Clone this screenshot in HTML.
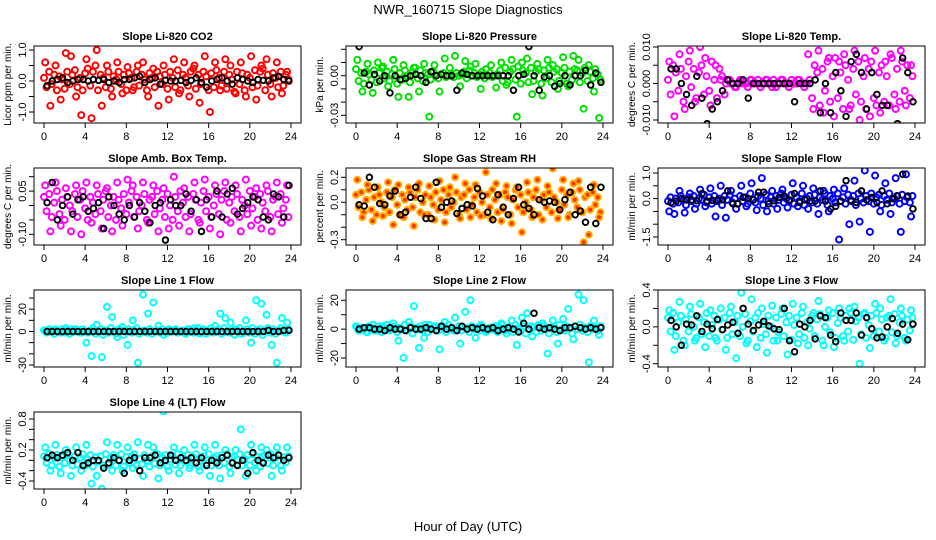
<!DOCTYPE html>
<html><head><meta charset="utf-8">
<style>
html,body{margin:0;padding:0;background:#fff;}
svg{display:block;font-family:"Liberation Sans",sans-serif;}
</style></head>
<body>
<svg id="chart" width="936" height="540" viewBox="0 0 936 540" xmlns="http://www.w3.org/2000/svg">
<text x="468" y="14" font-size="13" text-anchor="middle">NWR_160715  Slope Diagnostics</text>
<text x="468" y="531" font-size="13" text-anchor="middle">Hour of Day (UTC)</text>
</svg>
<script>
// ---- data ----
const xTicks = [0,4,8,12,16,20,24];
const titles = ["Slope Li-820 CO2","Slope Li-820 Pressure","Slope Li-820 Temp.","Slope Amb. Box Temp.","Slope Gas Stream RH","Slope Sample Flow","Slope Line 1 Flow","Slope Line 2 Flow","Slope Line 3 Flow","Slope Line 4 (LT) Flow"];
const yTitles = ["Licor ppm per min.","kPa per min.","degrees C per min.","degrees C per min.","percent per min.","ml/min per min.","ml/min per min.","ml/min per min.","ml/min per min.","ml/min per min."];
const yTickVals = [[1,0.5,0,-0.5,-1],[0.02,0.01,0,-0.01,-0.02,-0.03],[0.01,0.005,0,-0.005,-0.01],[0.1,0.05,0,-0.05,-0.1],[0.2,0.1,0,-0.1,-0.2,-0.3],[1,0.5,0,-0.5,-1,-1.5],[30,20,10,0,-10,-20,-30],[20,10,0,-10,-20],[0.4,0.2,0,-0.2,-0.4],[0.8,0.6,0.4,0.2,0,-0.2,-0.4]];
const yTickLabels = [["1.0","","0.0","","-1.0"],["","","0.00","","","-0.03"],["0.010","","0.000","","-0.010"],["","0.05","","","-0.10"],["0.2","","0.0","","","-0.3"],["1.0","","0.0","","","-1.5"],["","20","","0","","","-30"],["20","","0","","-20"],["0.4","","0.0","","-0.4"],["0.8","","","0.2","","","-0.4"]];

const p1A=[0.1,-0.2,0.3,-0.1,0.2,-0.3,0.15,0.05,-0.25,0.3,-0.1,0.2,0.35,-0.2,0.1,-0.3,0.25,0.4,-0.15,0.3,0.5,-0.3,0.2,0.1,-0.2,0.3,-0.25,0.15,0.05,0.3,-0.1,0.2,-0.3,0.25,0.1,-0.2,0.3,-0.15,0.2,0.05,-0.3,0.25,0.1,-0.2,0.3,0.15,-0.1,0.2,-0.25,0.3,0.1,-0.2,0.35,-0.3,0.2,0.1,-0.15,0.3,0.4,-0.25,0.2,-0.1,0.3,0.15,-0.3,0.25,-0.2,0.35,0.1,-0.15,0.3,-0.25,0.2,0.05,-0.35,0.3,-0.1,0.25,-0.3,0.2,0.1,-0.2,0.35,-0.15,0.3,0.4,-0.3,0.2,-0.1,0.25,0.1,-0.2,0.3,-0.15,0.2,0.05];
const p1B=[0.6,-0.8,0.5,-0.6,0.9,0.8,-0.5,-1.1,0.7,-1.2,1.0,-0.8,0.5,-0.5,0.6,-0.4,0.45,-0.3,0.5,0.6,-0.5,0.4,-0.8,0.5,-0.6,0.7,-0.4,0.6,-0.5,0.5,-0.7,0.8,-1.0,0.6,-0.3,0.7,0.5,-0.4,0.6,-0.5,0.8,-0.6,0.5,0.7,-0.5,0.6,-0.4,0.3];
const p1K=[-0.15,0.0,0.05,0.1,-0.05,0.0,0.05,0.05,0.0,0.05,0.02,0.05,-0.05,0.0,-0.05,0.05,0.05,0.1,0.15,-0.05,0.05,0.1,-0.1,0.02,0.0,0.0,0.02,-0.05,0.02,0.1,-0.05,-0.2,0.0,0.05,0.1,0.0,-0.1,0.1,0.05,0.0,-0.05,0.05,0.02,0.0,0.1,0.15,0.05,0.0];

const p2A=[0.005,-0.004,0.002,-0.006,0.003,0.001,-0.003,0.004,-0.005,0.002,0.006,-0.002,0.003,-0.004,0.001,0.005,-0.006,0.002,-0.003,0.004,0.0,-0.005,0.003,0.006,-0.002,0.004,-0.004,0.002,0.001,-0.003,0.003,0.0,-0.002,0.001,0.002,-0.001,0.0,0.001,-0.001,0.002,0.0,0.001,0.003,-0.002,0.004,0.0,0.002,-0.001,0.001,0.003,-0.002,0.0,0.002,-0.001,0.0,0.001,0.004,-0.004,0.006,-0.005,0.003,0.005,-0.003,0.007,-0.006,0.004,0.002,-0.005,0.006,-0.004,0.003,0.005,-0.006,0.004,-0.002,0.006,-0.005,0.003,0.005,-0.004,0.002,0.006,-0.006,0.003,-0.003,0.005,0.004,-0.005,0.002,0.006,-0.004,0.003,-0.002,0.005,0.001,-0.003];
const p2B=[0.012,-0.012,0.009,-0.013,0.01,0.007,-0.008,0.012,-0.016,0.008,-0.016,0.006,-0.012,0.009,-0.031,0.008,-0.012,0.013,0.006,0.015,-0.008,0.011,0.007,0.009,-0.01,0.005,0.008,-0.009,0.01,-0.007,0.012,-0.031,0.01,0.013,-0.014,0.009,-0.015,0.012,0.008,-0.01,0.014,-0.008,0.015,0.012,-0.025,0.008,-0.012,-0.032];
const p2K=[0.022,0.002,-0.007,0.001,-0.004,0.0,-0.013,0.0,-0.003,-0.002,0.0,0.001,0.0,-0.005,0.003,0.0,0.001,0.0,0.0,-0.011,0.002,0.001,0.0,0.0,0.0,0.0,0.0,0.0,0.0,0.0,-0.011,0.0,0.001,0.022,0.0,-0.011,-0.001,0.0,-0.008,-0.006,0.0,-0.007,0.0,0.0,0.004,-0.007,0.002,-0.005];

const p3A=[0.001,-0.003,0.005,0.003,-0.002,0.004,-0.005,0.002,0.006,-0.001,0.004,-0.004,0.003,0.005,-0.003,0.002,-0.002,0.006,0.001,-0.004,0.004,0.002,-0.003,0.001,0.001,0.0,-0.001,0.0,0.001,0.0,0.0,-0.001,0.001,0.0,0.0,0.001,-0.001,0.0,0.001,0.0,0.0,0.001,-0.001,0.0,0.001,0.0,0.0,-0.001,0.001,0.0,0.0,0.001,0.0,-0.001,0.0,0.001,-0.004,0.005,0.003,-0.006,0.004,-0.002,0.006,-0.005,0.002,0.007,-0.004,0.003,-0.007,0.005,0.001,-0.006,0.004,-0.003,0.006,-0.005,0.002,-0.007,0.004,0.006,-0.004,-0.006,0.003,0.005,-0.005,0.002,-0.006,0.007,-0.003,0.004,-0.005,0.006,-0.002,0.005,-0.004,0.002];
const p3B=[0.006,-0.009,0.008,-0.007,0.009,-0.005,0.01,0.007,-0.006,0.005,0.001,0.0,0.0,-0.001,0.001,0.0,0.001,0.0,0.0,0.001,-0.001,0.0,0.001,0.0,0.0,0.001,0.0,0.008,-0.007,0.009,-0.008,0.007,-0.009,0.006,0.008,-0.007,0.009,-0.010,0.007,-0.009,0.009,-0.008,0.006,0.008,-0.007,0.009,-0.006,0.005];
const p3K=[0.004,0.004,0.0,-0.003,-0.006,0.002,-0.004,-0.011,-0.007,-0.005,-0.002,0.001,0.0,0.0,0.001,-0.004,0.0,0.0,0.0,0.0,0.0,0.0,0.0,0.0,-0.005,0.0,0.0,0.0,0.001,-0.008,0.0,-0.008,0.003,-0.002,-0.009,0.006,0.008,0.003,-0.007,0.003,-0.003,-0.006,-0.006,0.012,-0.011,0.007,0.003,-0.005];

const p4A=[0.03,-0.02,0.04,-0.04,0.01,0.05,-0.03,0.02,-0.05,0.03,0.0,-0.02,0.04,-0.04,0.02,0.05,-0.01,-0.05,0.03,0.01,-0.03,0.04,-0.02,0.02,0.05,-0.04,0.0,0.03,-0.05,0.02,-0.01,0.04,-0.03,0.01,0.05,-0.04,0.03,-0.02,0.0,0.04,-0.05,0.02,0.03,-0.03,0.05,-0.01,0.02,-0.04,0.04,0.0,-0.05,0.03,-0.02,0.05,0.01,-0.04,0.03,-0.03,0.04,0.02,-0.05,0.01,0.05,-0.02,0.03,-0.04,0.0,0.04,-0.03,0.02,0.05,-0.05,0.01,0.03,-0.02,0.04,-0.04,0.02,0.0,-0.03,0.05,-0.01,0.03,-0.05,0.04,0.01,-0.02,0.05,-0.04,0.02,0.03,-0.03,0.04,-0.01,0.02,-0.04];
const p4B=[0.07,-0.09,0.08,-0.07,0.06,-0.09,0.07,-0.1,0.08,-0.06,0.07,-0.08,0.06,-0.09,0.08,-0.07,0.09,0.07,-0.08,0.08,-0.06,0.07,-0.09,0.06,-0.08,0.1,-0.07,0.06,-0.09,0.08,-0.06,0.09,-0.08,0.07,-0.1,0.08,-0.06,0.07,-0.09,0.09,-0.07,0.06,-0.08,0.07,-0.09,0.08,-0.06,0.07];
const p4K=[0.01,0.08,-0.05,0.0,0.03,-0.03,0.02,0.03,-0.02,-0.01,0.01,-0.08,0.03,0.0,-0.03,-0.05,0.0,-0.04,0.01,-0.02,-0.06,0.0,0.01,-0.12,0.02,0.0,0.0,0.04,-0.02,0.02,-0.09,0.02,-0.04,0.05,-0.04,0.04,0.06,-0.03,-0.01,0.01,0.03,0.02,-0.04,-0.05,0.04,0.03,-0.04,0.07];

const p5A=[0.06,-0.04,0.08,-0.08,0.02,0.1,-0.06,0.04,-0.1,0.06,0.0,-0.04,0.08,-0.08,0.04,0.1,-0.02,-0.1,0.06,0.02,-0.06,0.08,-0.04,0.04,0.1,-0.08,0.0,0.06,-0.1,0.04,-0.02,0.08,-0.06,0.02,0.1,-0.08,0.06,-0.04,0.0,0.08,-0.1,0.04,0.06,-0.06,0.1,-0.02,0.04,-0.08,0.08,0.0,-0.1,0.06,-0.04,0.1,0.02,-0.08,0.06,-0.06,0.08,0.04,-0.1,0.02,0.1,-0.04,0.06,-0.08,0.0,0.08,-0.06,0.04,0.1,-0.1,0.02,0.06,-0.04,0.08,-0.08,0.04,0.0,-0.06,0.1,-0.02,0.06,-0.1,0.08,0.02,-0.04,0.1,-0.08,0.04,0.06,-0.06,0.08,-0.02,0.04,-0.08];
const p5B=[0.18,-0.12,0.14,-0.15,0.12,-0.11,0.16,-0.18,0.14,-0.12,0.12,-0.19,0.15,-0.1,0.13,-0.14,0.17,-0.16,0.12,0.2,-0.13,0.15,-0.12,0.14,-0.11,0.24,-0.13,0.15,-0.15,0.13,-0.17,0.12,-0.24,0.16,-0.12,0.18,-0.14,0.13,0.27,-0.13,0.18,-0.12,0.15,0.17,-0.32,-0.26,0.14,-0.12];
const p5K=[-0.02,-0.03,0.2,0.12,-0.01,-0.02,0.05,0.09,-0.1,-0.08,0.04,0.12,0.03,-0.13,-0.13,0.16,-0.04,0.0,0.01,-0.09,-0.05,-0.02,-0.03,0.11,0.05,-0.08,-0.14,0.06,-0.04,-0.1,0.03,0.12,-0.02,-0.05,-0.1,0.02,0.0,0.01,0.0,-0.06,0.02,0.08,-0.1,-0.07,-0.16,0.12,-0.17,0.12];

const p6A=[-0.1,0.05,-0.2,0.0,-0.15,0.1,-0.05,-0.25,0.05,-0.1,0.1,-0.2,0.0,-0.05,0.15,-0.15,0.05,-0.2,0.1,-0.1,0.0,-0.25,0.1,-0.05,0.15,-0.15,0.0,-0.2,0.1,-0.1,0.05,-0.2,0.2,-0.05,-0.15,0.1,0.0,-0.25,0.15,-0.1,0.05,-0.2,0.1,-0.05,0.2,-0.15,0.0,-0.1,0.15,-0.2,0.05,-0.1,0.2,-0.25,0.0,0.1,-0.15,0.15,-0.2,0.05,-0.05,0.2,-0.25,0.1,0.0,-0.15,0.2,-0.1,0.05,-0.2,0.15,-0.05,0.1,-0.25,0.2,0.0,-0.15,0.1,-0.1,0.2,-0.2,0.05,0.15,-0.25,0.1,-0.05,0.2,-0.15,0.0,0.1,-0.2,0.15,-0.1,0.05,-0.15,0.1];
const p6B=[-0.5,-0.6,0.3,-0.55,0.2,-0.4,0.35,-0.3,0.4,-0.7,0.5,-0.75,0.3,-0.4,0.5,-0.3,0.6,-0.45,0.8,-0.5,0.3,-0.4,0.35,-0.35,0.6,-0.3,0.5,-0.4,0.4,-0.6,0.3,-0.5,0.35,-1.6,0.4,-1.0,0.7,-0.9,1.1,-1.3,0.9,-0.5,0.6,-0.6,0.8,-1.3,0.95,-0.7];
const p6K=[-0.15,-0.1,0.0,-0.05,-0.05,-0.08,0.2,-0.1,-0.07,-0.05,-0.05,0.3,-0.2,-0.2,0.05,0.0,-0.05,0.25,0.25,-0.2,-0.08,0.05,0.1,-0.05,0.2,-0.15,-0.05,-0.1,-0.1,0.3,-0.1,-0.4,-0.3,-0.1,0.7,-0.1,-0.15,0.3,-0.05,0.05,-0.15,0.3,-0.2,0.0,0.1,0.95,0.1,-0.4];

const p7A=[1,-1,2,0,-2,1,0,2,-1,1,-2,2,0,1,-1,2,0,-1,1,3,-2,0,2,-3,1,-1,3,0,-2,2,1,-3,0,2,-1,1,3,-2,0,1,-1,2,-2,0,1,-1,2,0,-1,1,0,2,-1,0,1,-2,2,0,-1,1,3,-1,2,-2,0,3,-1,1,2,-2,3,0,-1,2,-3,1,3,-2,0,2,-1,3,-2,1,2,-3,0,3,-1,2,-2,1,3,0,-1,2];
const p7B=[1,0,2,-1,3,0,2,-1,-10,-22,6,-23,22,13,-5,4,-12,10,-28,33,16,26,5,-3,2,1,0,-1,2,3,-2,1,0,5,16,12,8,2,-2,10,-10,28,25,15,-12,-28,12,8];
const p7K=[0,0,0,0,0,0,0,0,0,0,0,0,0,0,0,0,0,0,0,0,0,0,0,0,0,0,0,0,0,0,0,0,0,0,0,0,0,0,0,0,0,0,0,1,0,0,1,1];

const p8A=[2,-1,1,0,-2,2,1,-1,0,2,-2,1,3,-1,0,2,-2,1,0,3,-1,2,-3,1,0,2,-1,3,-2,0,1,2,-1,0,2,-2,3,1,-1,0,2,-1,1,0,-2,2,0,1,-1,2,0,-1,1,0,2,-2,1,3,-1,0,2,-2,3,1,-1,2,-3,0,2,1,-2,3,-1,2,0,-3,1,2,-2,3,0,-1,2,1,-3,2,0,3,-1,1,-2,2,0,1,-1,2];
const p8B=[1,0,-2,3,-1,2,0,4,-8,-20,5,16,-13,-6,3,2,-14,5,0,8,-10,12,20,-6,3,-2,1,0,4,-3,6,-11,8,11,-5,2,4,-17,6,-10,7,14,-7,24,20,-23,6,-4];
const p8K=[0,1,1,0,0,-1,1,0,0,-1,1,0,0,1,0,-1,2,0,1,-1,2,0,1,0,1,0,1,-1,0,1,0,-2,4,0,11,1,0,1,0,-1,1,1,2,1,0,1,0,1];

const p9A=[0.1,-0.05,0.15,-0.1,0.05,0.12,-0.15,0.08,-0.05,0.14,0.0,-0.12,0.1,-0.08,0.05,0.15,-0.1,0.02,0.12,-0.15,0.08,-0.03,0.1,-0.12,0.15,-0.08,0.05,0.12,-0.1,0.0,0.14,-0.15,0.06,-0.05,0.1,0.15,-0.12,0.03,-0.08,0.12,0.0,-0.15,0.1,-0.06,0.14,-0.1,0.05,0.12,-0.14,0.02,0.1,-0.08,0.15,-0.12,0.05,-0.02,0.12,-0.1,0.08,0.14,-0.15,0.0,0.1,-0.06,0.15,-0.12,0.04,0.1,-0.1,0.12,-0.05,0.15,-0.14,0.06,0.1,-0.08,0.14,-0.12,0.02,0.12,-0.1,0.15,-0.05,0.08,-0.15,0.1,0.12,-0.06,0.14,-0.1,0.05,0.12,-0.12,0.08,-0.04,0.1];
const p9B=[0.18,-0.25,0.27,-0.2,0.22,-0.15,0.25,-0.22,0.18,-0.12,0.2,-0.25,0.22,-0.34,0.37,-0.18,0.3,-0.22,0.2,-0.28,0.23,-0.15,0.2,-0.3,0.25,-0.18,0.22,-0.2,0.15,0.28,-0.2,0.18,-0.22,0.2,-0.15,0.2,0.22,-0.4,0.15,-0.23,0.25,0.2,-0.12,0.3,-0.18,0.2,-0.15,0.18];
const p9K=[0.07,0.0,-0.2,0.03,0.02,0.12,-0.05,0.03,-0.02,0.08,-0.03,0.02,0.05,-0.07,0.2,0.03,-0.04,0.02,0.06,0.01,-0.02,-0.03,0.2,-0.15,-0.27,0.03,0.0,0.07,-0.13,0.12,0.1,-0.09,-0.16,0.15,0.07,0.07,0.15,-0.09,0.1,-0.02,-0.12,-0.11,0.0,0.09,-0.07,0.03,-0.14,0.03];

const p10A=[0.08,-0.05,0.12,-0.1,0.05,0.1,-0.12,0.06,-0.05,0.12,0.0,-0.1,0.08,-0.08,0.05,0.12,-0.1,0.02,0.1,-0.12,0.06,-0.03,0.08,-0.1,0.12,-0.08,0.05,0.1,-0.1,0.0,0.12,-0.12,0.06,-0.05,0.08,0.12,-0.1,0.03,-0.08,0.1,0.0,-0.12,0.08,-0.06,0.12,-0.1,0.05,0.1,-0.12,0.02,0.08,-0.08,0.12,-0.1,0.05,-0.02,0.1,-0.1,0.06,0.12,-0.12,0.0,0.08,-0.06,0.12,-0.1,0.04,0.08,-0.1,0.1,-0.05,0.12,-0.12,0.06,0.08,-0.08,0.12,-0.1,0.02,0.1,-0.1,0.12,-0.05,0.06,-0.12,0.08,0.1,-0.06,0.12,-0.1,0.05,0.1,-0.1,0.06,-0.04,0.08];
const p10B=[0.25,-0.2,0.3,-0.25,0.2,-0.3,0.25,-0.2,0.3,-0.45,-0.3,-0.55,0.35,-0.2,0.3,-0.2,0.25,-0.15,0.35,-0.3,0.3,0.25,-0.35,0.95,-0.2,0.25,-0.25,0.2,-0.15,0.3,-0.2,0.25,-0.3,0.3,-0.35,0.2,-0.25,0.2,0.6,-0.3,0.3,-0.2,0.25,0.2,-0.3,0.25,-0.2,0.25];
const p10K=[0.05,0.1,0.05,0.1,0.15,0.0,0.15,-0.1,-0.05,0.0,0.0,-0.15,-0.05,0.05,0.0,-0.25,0.0,0.05,-0.2,0.05,0.05,0.1,-0.05,0.0,0.1,0.0,0.05,0.0,0.05,-0.05,0.05,-0.1,0.0,-0.05,0.05,0.1,-0.05,-0.1,0.0,-0.25,0.15,0.0,-0.05,0.1,0.05,0.1,0.0,0.05];

const seriesA=[p1A,p2A,p3A,p4A,p5A,p6A,p7A,p8A,p9A,p10A];
const seriesB=[p1B,p2B,p3B,p4B,p5B,p6B,p7B,p8B,p9B,p10B];
const seriesK=[p1K,p2K,p3K,p4K,p5K,p6K,p7K,p8K,p9K,p10K];
const hourStepA=0.25, hourStepB=0.5, hourOffB=0.12, hourStepK=0.5, hourOffK=0.3;

// ---- layout (not data) ----
const colLeft=[34,346,658], rowTop=[46,168,290,412], boxW=267, boxH=77;
const yCal=[[1,4,-1,66],[0.02,3.3,-0.03,69.3],[0.01,1,-0.01,74],[0.1,8.7,-0.1,66.3],[0.2,9.3,-0.3,71.7],[1,5,-1.5,69],[30,8,-30,75],[20,10.3,-20,68],[0.4,0,-0.4,73.7],[0.8,7,-0.4,69]];
const colors=[["#ff0000","none"],["#00e000","none"],["#ff00ff","none"],["#ff00ff","none"],["#ffb000","#ff3000"],["#0000ff","none"],["#00ffff","none"],["#00ffff","none"],["#00ffff","none"],["#00ffff","none"]];

const NS="http://www.w3.org/2000/svg";
const svg=document.getElementById('chart');
function mk(tag,attrs,parent){const e=document.createElementNS(NS,tag);for(const k in attrs)e.setAttribute(k,attrs[k]);(parent||svg).appendChild(e);return e;}

for(let p=0;p<10;p++){
  const L=colLeft[p%3], T=rowTop[Math.floor(p/3)];
  const xS=h=>L+10+h*247/24;
  const c=yCal[p];
  const yS=v=>T+c[1]+(c[0]-v)*(c[3]-c[1])/(c[0]-c[2]);
  const g=mk('g',{});
  
  
  const cp=mk('clipPath',{id:'clip'+p},g);
  mk('rect',{x:L,y:T,width:boxW,height:boxH},cp);
  const t=mk('text',{x:L+boxW/2,y:T-6,'font-size':11,'font-weight':'bold','text-anchor':'middle'},g);
  t.textContent=titles[p];
  
  
  const yt=mk('text',{x:0,y:0,'font-size':10,'text-anchor':'middle',transform:`translate(${L-23},${T+boxH/2}) rotate(-90)`},g);
  yt.textContent=yTitles[p];
  
  
  yTickVals[p].forEach((v,i)=>{
    const y=yS(v);
    const tk=mk('line',{x1:L-5,x2:L,y1:y,y2:y,stroke:'#000','stroke-width':1},g);
    
    
    if(yTickLabels[p][i]){
      const lb=mk('text',{x:0,y:0,'font-size':11,'text-anchor':'middle',transform:`translate(${L-8},${y}) rotate(-90)`},g);
      lb.textContent=yTickLabels[p][i];
      
      
    }
  });
  xTicks.forEach(h=>{
    const x=xS(h);
    const tk=mk('line',{x1:x,x2:x,y1:T+boxH,y2:T+boxH+5,stroke:'#000','stroke-width':1},g);
    
    
    const lb=mk('text',{x:x,y:T+boxH+17,'font-size':11,'text-anchor':'middle'},g);
    lb.textContent=String(h);
    
    
  });
  const pts=mk('g',{'clip-path':`url(#clip${p})`},g);
  
  
  const [sc,fc]=colors[p];
  seriesA[p].forEach((v,i)=>{
    const ci=mk('circle',{cx:xS(i*hourStepA),cy:yS(v),r:3,fill:fc,stroke:sc,'stroke-width':2},pts);
    
    
  });
  seriesB[p].forEach((v,i)=>{
    const ci=mk('circle',{cx:xS(i*hourStepB+hourOffB),cy:yS(v),r:3,fill:fc,stroke:sc,'stroke-width':2},pts);
    
    
  });
  seriesK[p].forEach((v,i)=>{
    const ci=mk('circle',{cx:xS(i*hourStepK+hourOffK),cy:yS(v),r:2.8,fill:'none',stroke:'#000','stroke-width':1.9},pts);
    
    
  });
  const box=mk('rect',{x:L,y:T,width:boxW,height:boxH,fill:'none',stroke:'#000','stroke-width':1},g);
  
  
}
</script>
</body></html>
